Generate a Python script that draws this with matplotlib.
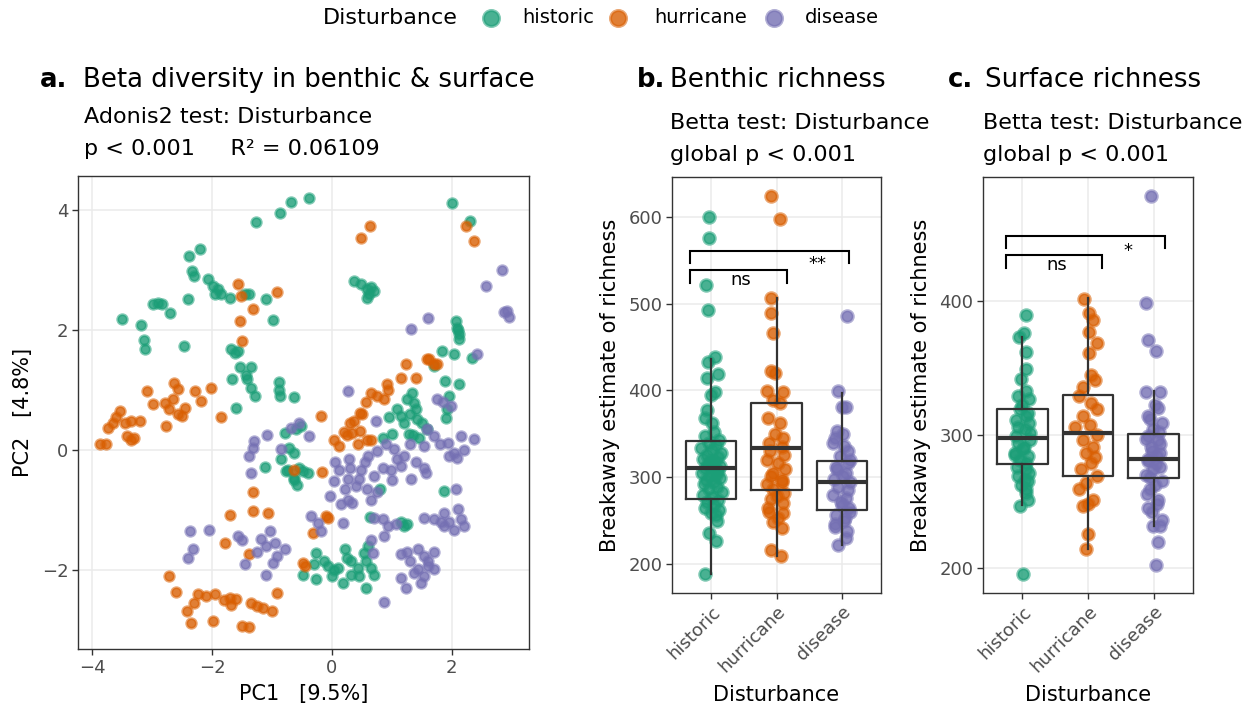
import matplotlib
matplotlib.use("Agg")
import matplotlib.pyplot as plt
from matplotlib.lines import Line2D
from matplotlib.colors import to_rgba

plt.rcParams['font.family'] = ['DejaVu Sans']

W, H = 1250, 713

groups = ["historic", "hurricane", "disease"]
group_colors = ["#1B9E77", "#D95F02", "#7570B3"]

# ---------------- Panel a: PCA scores ----------------
hist_pc1 = [-1.26, -0.87, -0.68, -0.38, 2.01, 2.31,
            -2.2, -2.38, -2.34, -2.3, -2.07, -1.99, -1.96, -1.85, -1.71, -1.46, -1.1, -0.99, -2.91, -2.83,
            -2.71, -2.99, -2.41, -3.5, -3.18, -3.13, -3.12, -2.47, -1.68, -1.57, -1.53, -1.35, -1.67, -1.41,
            -1.35, -1.29, -0.89, -0.87, -0.63, -1.6, -1.9, -1.38, -1.62, -1.44, -0.88,
            0.36, 0.48, 0.59, 0.71, 0.58, 0.65, 0.62,
            2.07, 2.09, 2.12, 2.12, 1.84, 2.04, 2.34, 1.71, 2.12, 1.96, 1.92, 1.9, 2.1, 1.88,
            1.34, 1.37, 1.4, 1.09, 1.15, 1.42, 1.01, 1.29, 1.36, 1.59, 1.25, 1.2, 0.95, 1.3, 1.5, 1.45, 0.85,
            0.81, 1.87,
            -0.51, -0.79, -1.12, -0.71, -0.63, -0.85, -0.74, -0.63, -0.58, -0.49, -0.4, -0.55, -0.6, -0.76, -0.64,
            1.21, 1.26, 1.15, 0.64,
            -0.27, -0.07, -0.13, 0.1, 0.21, 0.18, 0.32, 0.43, 0.54, 0.57, 0.65, 0.71, 0.57, 0.32, -0.49, -0.27,
            0.04, -0.3, 0.25, 0.45, 0.0, 0.6]
hist_pc2 = [3.81, 3.96, 4.13, 4.21, 4.12, 3.82,
            3.36, 3.23, 2.99, 2.9, 2.85, 2.74, 2.6, 2.6, 2.54, 2.6, 2.52, 2.17, 2.46, 2.43,
            2.29, 2.43, 2.52, 2.18, 2.09, 1.84, 1.68, 1.74, 1.68, 1.66, 1.38, 1.39, 1.18, 1.18,
            1.04, 0.91, 1.13, 0.91, 0.89, 0.71, 2.68, 2.6, 1.62, 1.25, 1.0,
            2.82, 2.77, 2.68, 2.66, 2.54, 2.72, 2.6,
            2.16, 2.04, 1.93, 1.85, 1.66, 1.6, 1.54, 1.41, 1.1, 0.91, 0.68, 0.54, 2.0, 1.15,
            0.96, 0.79, 0.68, 0.68, 0.57, 0.52, 0.27, 0.27, 0.25, 0.35, 0.85, 0.45, 0.55, 0.6, 0.45, 0.2, 0.2,
            -0.65, -0.68,
            0.41, 0.29, -0.28, 0.04, -0.04, -0.14, -0.32, -0.46, -0.57, -0.34, -0.37, -0.3, 0.35, -0.34, -0.5,
            -1.26, -1.23, -1.2, -1.11,
            -1.71, -1.93, -1.85, -1.96, -1.65, -2.21, -1.85, -1.96, -1.71, -1.85, -1.96, -2.07, -2.29, -2.07, -2.07, -2.15,
            -2.0, -1.9, -1.8, -2.1, -2.1, -1.6]

hurr_pc1 = [0.64, 0.48, 2.23, 2.37,
            -1.57, -1.52, -0.92, -1.31, -1.53, -1.51,
            -3.08, -2.63, -2.57, -2.29, -2.02, -2.18, -2.99, -2.79, -2.72, -2.57, -2.51, -2.77, -1.85, -3.54,
            -3.66, -3.74, -3.35, -3.21, -3.43, -3.35, -3.88, -3.77, -3.46, -3.6, -3.3, -2.45, -2.65,
            1.23, 1.62, 1.76, 1.4, 1.15, 0.92, 0.87, 0.57, 0.46, 0.37, 0.34, 0.47, 0.58, 0.04, 0.12, -0.18,
            0.43, 1.59, 1.7, 0.93, 0.65, 0.5, 0.3, 0.25, 0.66, 0.75, 0.2,
            -0.17, -0.63,
            -1.32, -1.32, -1.07, -1.71, -1.79, -1.38, -0.49, -0.45, -0.07, -0.31, -0.1,
            -2.72, -2.6, -2.24, -1.95, -1.71, -1.68, -1.35, -1.15, -1.0, -0.91, -2.42, -2.36, -1.98, -1.5,
            -1.38, -2.1, -1.8, -1.6, -2.3, -1.25]
hurr_pc2 = [3.73, 3.54, 3.73, 3.48,
            2.77, 2.57, 2.63, 2.35, 2.16, 1.82,
            0.99, 1.12, 1.02, 0.99, 1.04, 0.82, 0.77, 0.79, 0.68, 0.6, 0.57, 0.41, 0.56, 0.66,
            0.46, 0.38, 0.49, 0.49, 0.24, 0.18, 0.1, 0.1, 0.46, 0.55, 0.2, 0.7, 0.85,
            1.43, 1.52, 1.43, 1.21, 1.21, 1.1, 0.85, 0.81, 0.63, 0.49, 0.29, 0.32, 0.18, 0.18, 0.07, 0.58,
            0.1, 1.52, 1.44, 1.0, 0.95, 0.6, 0.45, 0.25, 0.18, 0.9, 0.3,
            -0.36, -0.32,
            -0.69, -1.01, -1.04, -1.08, -1.55, -1.72, -1.87, -1.92, -1.12, -1.37, -1.1,
            -2.1, -2.36, -2.4, -2.4, -2.46, -2.57, -2.55, -2.63, -2.68, -2.38, -2.68, -2.88, -2.85, -2.93,
            -2.95, -2.42, -2.5, -2.48, -2.55, -2.6]

dis_pc1 = [2.84, 2.57, 2.92, 2.95, 2.88,
           1.32, 1.61, 2.43, 0.26, 1.76, 1.98, 0.73, 1.85,
           1.59, 1.7, 1.93, 2.15, 2.37, 2.04, 2.09, 1.54, 0.76, 1.04, 1.09, 0.98, 1.15, 1.32, 1.54, 1.57,
           0.71, 0.48, 0.59, 0.65, 0.29, 0.12, 0.26, 0.04, 0.21, -0.04, 0.34, 0.26, 0.45, 2.07, 1.8, 1.3,
           1.2, 0.9, 0.6, 0.4, 0.15, 0.55, 1.4, 1.0, 0.85, 0.3, 2.2, 1.95, 0.75, 0.05,
           -1.08, -0.68, -0.38, -1.32, -1.38, -1.35, -0.85, -1.3, -0.55,
           -2.37, -2.06, -2.32, -2.41, -1.57, -1.5, -1.18, -1.04, -1.1, -0.79, -0.91, -0.99, -1.46, -1.1,
           -1.25, -0.95,
           -0.35, -0.24, 0.18, -0.18, 0.71, 0.85, 0.68, 0.87, 0.93, 1.07, 0.65,
           1.54, 1.71, 1.87, 2.1, 2.15, 2.21, 2.04, 1.87, 1.82, 1.15, 1.26, 1.43, 1.54, 1.71, 1.6, 1.43,
           1.71, 1.54, 1.37, 1.48, 1.15, 1.24, 0.87, 1.95, 1.6, 1.3]
dis_pc2 = [3.0, 2.74, 2.32, 2.22, 2.3,
           2.02, 2.2, 1.6, 0.99, 0.85, 0.74, 0.49, 0.8,
           0.35, 0.24, 0.13, 0.24, 0.19, -0.04, -0.12, 0.07, -0.01, 0.02, -0.15, -0.32, -0.26, -0.48, -0.29, -0.37,
           -0.43, -0.32, -0.65, -0.82, -0.15, -0.32, -0.48, -0.51, -0.65, -0.76, -0.87, -0.82, -0.48, -0.65, 0.1, 0.1,
           -0.1, 0.1, -0.1, -0.6, -0.9, -0.2, -0.2, -0.5, -0.3, -0.3, 0.0, -0.1, -0.7, -0.2,
           0.25, 0.38, 0.24, 0.04, -0.09, -0.37, 0.02, 0.15, 0.45,
           -1.34, -1.32, -1.65, -1.79, -1.43, -1.5, -1.48, -1.34, -1.6, -1.65, -1.76, -1.87, -1.9, -2.07,
           -1.7, -1.55,
           -1.09, -1.21, -1.21, -1.35, -1.12, -1.15, -1.71, -1.43, -1.26, -1.23, -1.5,
           -1.12, -1.15, -1.04, -0.98, -1.15, -1.26, -1.32, -1.26, -1.2, -1.73, -1.7, -1.65, -1.76, -1.7, -1.93, -1.98,
           -1.98, -2.1, -2.04, -2.21, -2.12, -2.29, -2.53, -1.2, -1.85, -1.85]

# ---------------- Panel b: benthic richness ----------------
ben_hist_val = [600, 576, 521, 493, 438, 433, 419, 414, 395, 398, 378, 362, 368,
                352, 347, 343, 340, 337, 334, 331, 328, 326, 323, 321, 319, 317, 315, 313, 311, 309, 307,
                305, 303, 301, 299, 297, 295, 292, 289, 286, 283, 280, 277, 274, 271, 268, 265, 262, 259,
                256, 249, 236, 227, 188]
ben_hist_jit = [-0.03, -0.04, -0.08, -0.05, 0.06, -0.05, 0.1, -0.07, 0.0, 0.06, -0.06, 0.01, -0.09,
                0.05, -0.1, 0.12, -0.03, 0.08, -0.15, 0.02, 0.15, -0.07, 0.1, -0.12, 0.0, 0.06, -0.05, 0.14,
                -0.09, 0.03, 0.11, -0.14, 0.07, -0.02, 0.13, -0.08, 0.04, -0.11, 0.09, -0.04, 0.16, -0.13,
                0.01, 0.1, -0.06, 0.05, -0.1, 0.12, -0.01, 0.08, 0.09, -0.04, 0.08, -0.1]
ben_hurr_val = [624, 598, 507, 489, 466, 422, 420, 399, 398, 389, 385, 368, 362, 350, 345, 340, 335, 330,
                326, 320, 316, 309, 305, 301, 297, 292, 294, 286, 282, 278, 275, 270, 265, 260, 259, 253,
                248, 241, 216, 209]
ben_hurr_jit = [-0.08, 0.05, -0.08, -0.08, -0.06, -0.08, -0.02, -0.15, 0.1, -0.05, 0.05, -0.13, 0.05,
                -0.02, 0.1, -0.12, 0.08, -0.1, 0.12, -0.15, 0.03, 0.13, -0.06, -0.08, 0.08, -0.15, 0.08,
                -0.05, 0.12, 0.0, -0.08, 0.1, -0.13, -0.12, 0.1, 0.03, -0.05, 0.08, -0.08, 0.07]
ben_dis_val = [486, 399, 381, 381, 353, 350, 345, 339, 336, 330, 325, 320, 316, 312, 309, 305, 301, 298,
               294, 289, 285, 279, 276, 272, 268, 264, 260, 257, 253, 250, 246, 243, 238, 230, 222]
ben_dis_jit = [0.08, -0.06, 0.07, 0.0, -0.08, 0.02, -0.1, -0.13, 0.04, 0.1, -0.03, 0.12, 0.09, -0.09,
               -0.08, 0.06, 0.02, -0.12, 0.12, -0.06, 0.1, -0.13, 0.07, -0.02, 0.0, 0.11, 0.12, -0.09,
               0.05, 0.04, -0.11, -0.11, 0.08, 0.07, -0.06]
# box stats: low whisker, q1, median, q3, high whisker
ben_box = [[188, 275, 311, 342, 436],
           [209, 285.5, 334, 385, 507],
           [222, 262, 295, 319, 397]]

# ---------------- Panel c: surface richness ----------------
sur_hist_val = [390, 373, 376, 362, 349, 342, 333, 329, 327, 322, 319, 316, 314, 311, 309, 306, 304, 301,
                299, 296, 294, 291, 289, 286, 285, 284, 281, 279, 276, 274, 271, 269, 266, 265, 262, 259,
                256, 251, 246, 195]
sur_hist_jit = [0.05, -0.05, 0.03, 0.05, 0.05, -0.02, 0.06, -0.07, 0.1, 0.0, -0.04, 0.08, 0.06, -0.1,
                0.1, -0.06, 0.04, 0.12, -0.1, 0.11, -0.07, 0.02, 0.01, -0.12, -0.11, 0.09, -0.03, 0.06,
                -0.08, 0.06, 0.1, -0.07, 0.04, 0.09, -0.02, 0.06, 0.06, 0.09, -0.04, 0.01]
sur_hurr_val = [402, 391, 386, 377, 369, 361, 345, 341, 336, 329, 324, 319, 314, 307, 306, 300, 296, 291,
                286, 283, 279, 274, 269, 264, 259, 251, 248, 246, 225, 214]
sur_hurr_jit = [-0.06, 0.02, 0.08, 0.02, 0.13, 0.02, 0.05, 0.1, -0.08, -0.13, 0.05, 0.13, -0.08, 0.03,
                -0.2, 0.13, -0.08, 0.08, -0.03, 0.1, 0.05, -0.1, 0.13, -0.03, -0.13, 0.08, 0.0, -0.08,
                0.0, -0.03]
sur_dis_val = [479, 399, 371, 363, 332, 332, 322, 314, 309, 304, 299, 296, 291, 286, 282, 278, 274, 270,
               265, 259, 251, 245, 236, 231, 231, 219, 202,
               320, 312, 302, 297, 293, 288, 284, 280, 276, 268, 262, 255, 248, 242]
sur_dis_jit = [-0.04, -0.11, -0.09, 0.04, -0.11, 0.1, 0.02, -0.09, 0.12, -0.01, -0.09, 0.07, -0.04, 0.09,
               -0.09, 0.04, -0.01, -0.11, 0.12, -0.06, 0.07, -0.09, 0.12, -0.01, 0.09, 0.07, 0.03,
               0.06, -0.05, 0.08, -0.12, 0.1, -0.03, 0.05, -0.08, 0.1, -0.05, 0.02, -0.1, 0.05, -0.03]
sur_box = [[247, 278, 297.5, 319.5, 373],
           [214, 269, 301, 330, 402.5],
           [231, 267.5, 282, 300.5, 333]]

# significance brackets: (x_left, x_right, y_line, y_tip, label, label_x, label_y)
ben_brackets = [(0.68, 2.16, 538.6, 524, "ns", 1.46, 527),
                (0.68, 3.11, 561, 547, "**", 2.62, 546)]
sur_brackets = [(0.756, 2.213, 434.8, 425.5, "ns", 1.52, 427.5),
                (0.746, 3.178, 449, 440, "*", 2.61, 438)]

ben_ticks = [200, 300, 400, 500, 600]
sur_ticks = [200, 300, 400]

# ---------------- drawing ----------------
fig = plt.figure(figsize=(W / 100, H / 100), dpi=100)
fig.patch.set_facecolor("white")

GRID = "#EBEBEB"
DARK = "#333333"
TICKC = "#4D4D4D"
FACE_A = 0.8
EDGE_A = 0.55


def px_axes(l, t, r, b):
    return fig.add_axes([l / W, 1 - b / H, (r - l) / W, (b - t) / H])


def style(ax):
    for s in ax.spines.values():
        s.set_color(DARK)
        s.set_linewidth(1.0)
    ax.set_axisbelow(True)
    ax.grid(True, color=GRID, linewidth=1.1)
    ax.tick_params(colors=DARK, labelcolor=TICKC, labelsize=13, length=4, width=1.0, pad=3)


def ftext(x, y, s, **kw):
    fig.text(x / W, 1 - y / H, s, **kw)


# Panel a
axa = px_axes(78, 176, 529, 649)
style(axa)
for pc1, pc2, c in [(hist_pc1, hist_pc2, group_colors[0]),
                    (hurr_pc1, hurr_pc2, group_colors[1]),
                    (dis_pc1, dis_pc2, group_colors[2])]:
    axa.scatter(pc1, pc2, s=48, facecolor=to_rgba(c, FACE_A), edgecolors=to_rgba(c, EDGE_A),
                linewidths=2.0, zorder=2)
axa.set_xlim(-4.24, 3.29)
axa.set_ylim(-3.31, 4.57)
axa.set_xticks([-4, -2, 0, 2])
axa.set_yticks([-2, 0, 2, 4])
axa.set_xlabel("PC1   [9.5%]", fontsize=15, labelpad=5)
axa.set_ylabel("PC2   [4.8%]", fontsize=15, labelpad=6)


def box_panel(ax, vals, jits, boxes, brackets, ylim, yticks):
    style(ax)
    for i, (v, j, c) in enumerate(zip(vals, jits, group_colors)):
        xs = [i + 1 + o for o in j]
        ax.scatter(xs, v, s=68, facecolor=to_rgba(c, FACE_A), edgecolors=to_rgba(c, EDGE_A),
                   linewidths=2.2, zorder=2)
    stats = [dict(whislo=b[0], q1=b[1], med=b[2], q3=b[3], whishi=b[4], label=g)
             for b, g in zip(boxes, groups)]
    ax.bxp(stats, positions=[1, 2, 3], widths=0.77, showfliers=False, showcaps=False,
           patch_artist=False,
           boxprops=dict(color=DARK, linewidth=1.6),
           whiskerprops=dict(color=DARK, linewidth=1.6),
           medianprops=dict(color=DARK, linewidth=3.0, solid_capstyle="butt"),
           zorder=3)
    for (xl, xr, yl, yt, lab, lx, ly) in brackets:
        ax.plot([xl, xl, xr, xr], [yt, yl, yl, yt], color="black", linewidth=1.5,
                zorder=4, solid_joinstyle="miter")
        ax.text(lx, ly, lab, ha="center", va="center", fontsize=13, zorder=5)
    ax.set_xlim(0.4, 3.6)
    ax.set_ylim(*ylim)
    ax.set_yticks(yticks)
    ax.set_xticks([1, 2, 3])
    ax.set_xticklabels(groups, rotation=45, ha="right", rotation_mode="anchor")
    ax.set_xlabel("Disturbance", fontsize=15, labelpad=6)
    ax.set_ylabel("Breakaway estimate of richness", fontsize=15, labelpad=6)


axb = px_axes(672, 177, 881, 593)
box_panel(axb, [ben_hist_val, ben_hurr_val, ben_dis_val],
          [ben_hist_jit, ben_hurr_jit, ben_dis_jit], ben_box, ben_brackets, (166.6, 646), ben_ticks)

axc = px_axes(983, 177, 1193, 593)
box_panel(axc, [sur_hist_val, sur_hurr_val, sur_dis_val],
          [sur_hist_jit, sur_hurr_jit, sur_dis_jit], sur_box, sur_brackets, (181, 493.5), sur_ticks)

# titles
TFS, SFS = 18.7, 16
ftext(40, 87, "a.", fontsize=TFS, fontweight="bold", va="baseline")
ftext(83, 87, "Beta diversity in benthic & surface", fontsize=TFS, va="baseline")
ftext(84, 123, "Adonis2 test: Disturbance", fontsize=SFS, va="baseline")
ftext(84, 155, "p < 0.001     R\u00b2 = 0.06109", fontsize=SFS, va="baseline")

ftext(637, 87, "b.", fontsize=TFS, fontweight="bold", va="baseline")
ftext(670, 87, "Benthic richness", fontsize=TFS, va="baseline")
ftext(670, 129, "Betta test: Disturbance", fontsize=SFS, va="baseline")
ftext(670, 161, "global p < 0.001", fontsize=SFS, va="baseline")

ftext(948, 87, "c.", fontsize=TFS, fontweight="bold", va="baseline")
ftext(985, 87, "Surface richness", fontsize=TFS, va="baseline")
ftext(983, 129, "Betta test: Disturbance", fontsize=SFS, va="baseline")
ftext(983, 161, "global p < 0.001", fontsize=SFS, va="baseline")

# legend
ftext(323, 24, "Disturbance", fontsize=16, va="baseline")
leg_x = [491, 618, 774]
lab_x = [522, 654, 805]
for g, c, mx, lx in zip(groups, group_colors, leg_x, lab_x):
    fig.add_artist(Line2D([mx / W], [1 - 18 / H], marker="o", markersize=11.5,
                          markerfacecolor=to_rgba(c, FACE_A),
                          markeredgecolor=to_rgba(c, EDGE_A),
                          markeredgewidth=2.2, linestyle="none", transform=fig.transFigure))
    ftext(lx, 23, g, fontsize=14, va="baseline")

fig.savefig("out.png", dpi=100)
